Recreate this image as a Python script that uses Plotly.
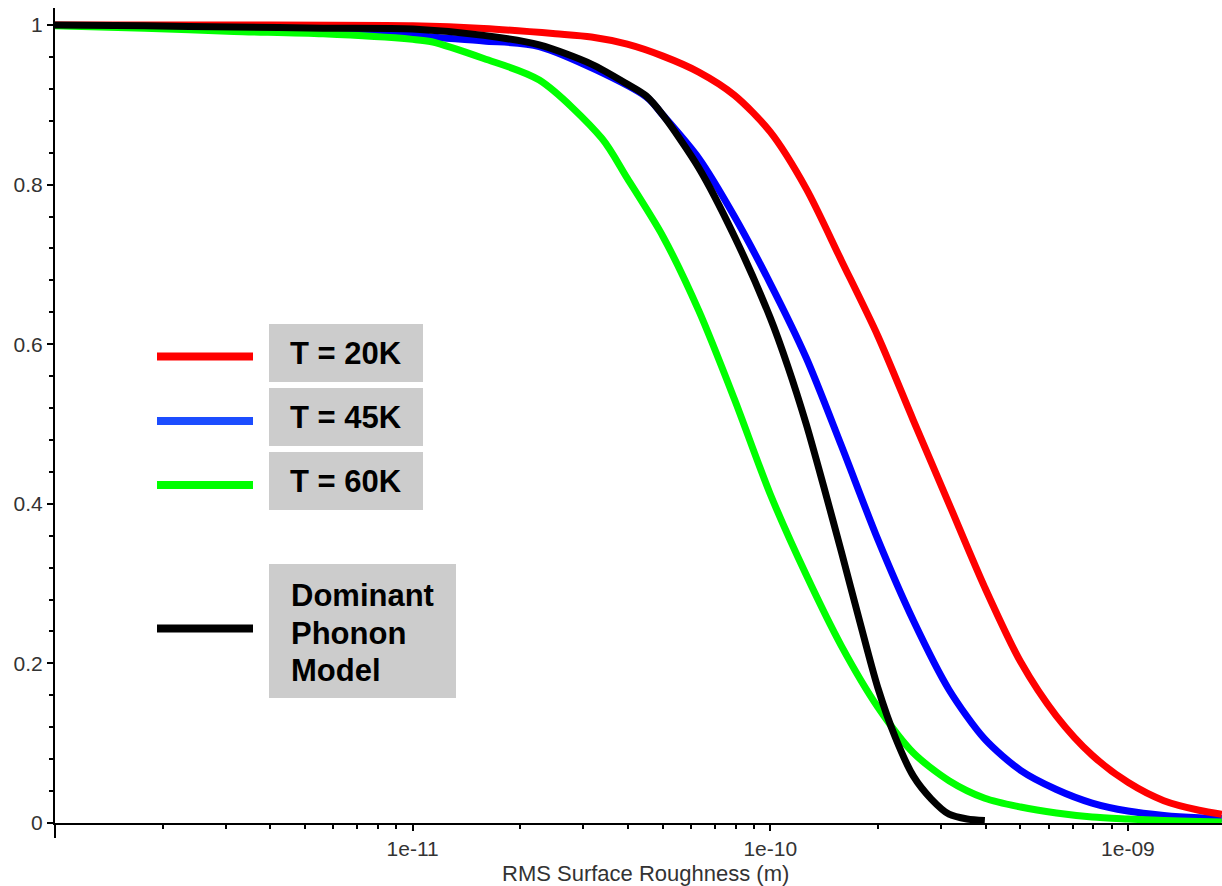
import plotly.graph_objects as go

# ---------------- data ----------------
red_x = [1e-12, 3.16e-12, 1e-11, 1.58e-11, 2.51e-11, 3.16e-11, 3.98e-11, 5.01e-11, 6.31e-11,
         7.94e-11, 1e-10, 1.26e-10, 1.58e-10, 2.0e-10, 2.51e-10, 3.16e-10, 3.98e-10, 5.01e-10,
         6.31e-10, 7.94e-10, 1e-9, 1.26e-9, 1.58e-9, 1.83e-9]
red_y = [1.0, 1.0, 0.999, 0.9956, 0.989, 0.985, 0.976, 0.961, 0.941,
         0.912, 0.866, 0.795, 0.705, 0.61, 0.505, 0.40, 0.295, 0.202,
         0.134, 0.085, 0.051, 0.028, 0.016, 0.011]

blue_x = [1e-12, 1.78e-12, 3.16e-12, 5.62e-12, 1e-11, 1.13e-11, 1.58e-11, 2.26e-11, 4.5e-11,
          5.01e-11, 6.31e-11, 7.94e-11, 1e-10, 1.26e-10, 1.58e-10, 2.0e-10, 2.51e-10, 3.16e-10,
          3.98e-10, 5.01e-10, 6.31e-10, 7.94e-10, 1e-9, 1.26e-9, 1.58e-9, 1.83e-9]
blue_y = [0.9995, 0.999, 0.997, 0.993, 0.9875, 0.985, 0.98, 0.973, 0.91,
          0.887, 0.833, 0.760, 0.676, 0.583, 0.473, 0.355, 0.254, 0.167,
          0.105, 0.066, 0.042, 0.025, 0.015, 0.0095, 0.0065, 0.0055]

green_x = [1e-12, 1.78e-12, 3.16e-12, 5.62e-12, 1e-11, 1.13e-11, 1.58e-11, 2.26e-11, 3.38e-11,
           3.98e-11, 5.01e-11, 6.31e-11, 7.94e-11, 1e-10, 1.26e-10, 1.58e-10, 2.0e-10, 2.51e-10,
           3.16e-10, 3.98e-10, 5.01e-10, 6.31e-10, 7.94e-10, 1e-9, 1.26e-9, 1.58e-9, 1.83e-9]
green_y = [0.999, 0.996, 0.992, 0.989, 0.982, 0.979, 0.958, 0.931, 0.858,
           0.808, 0.735, 0.642, 0.531, 0.412, 0.311, 0.222, 0.145, 0.088,
           0.053, 0.031, 0.020, 0.0125, 0.0075, 0.005, 0.003, 0.002, 0.0013]

black_x = [1e-12, 1.78e-12, 3.16e-12, 5.62e-12, 1e-11, 1.58e-11, 2.26e-11, 3.16e-11, 3.98e-11,
           4.5e-11, 5.01e-11, 6.31e-11, 7.94e-11, 1e-10, 1.12e-10, 1.26e-10, 1.41e-10, 1.58e-10,
           1.78e-10, 2.0e-10, 2.24e-10, 2.51e-10, 2.82e-10, 3.16e-10, 3.55e-10, 3.98e-10]
black_y = [1.0, 0.999, 0.9975, 0.996, 0.995, 0.987, 0.975, 0.951, 0.926,
           0.911, 0.887, 0.821, 0.735, 0.633, 0.572, 0.50, 0.422, 0.34,
           0.252, 0.169, 0.1065, 0.059, 0.030, 0.011, 0.005, 0.003]

x_tick_vals = [1e-11, 1e-10, 1e-9]
x_tick_text = ["1e-11", "1e-10", "1e-09"]
y_tick_vals = [0, 0.2, 0.4, 0.6, 0.8, 1.0]
y_tick_text = ["0", "0.2", "0.4", "0.6", "0.8", "1"]

legend_labels = ["T = 20K", "T = 45K", "T = 60K"]
legend_last = ["Dominant", "Phonon", "Model"]
x_title = "RMS Surface Roughness (m)"

# ---------------- layout geometry ----------------
W, H = 1222, 886
ML, MR, MT, MB = 55, 0, 8, 63
PW, PH = W - ML - MR, H - MT - MB


def px(xp):
    return (xp - ML) / PW


def py(yp):
    return (H - MB - yp) / PH


fig = go.Figure()
series = [
    (blue_x, blue_y, "#0000ff"),
    (red_x, red_y, "#ff0000"),
    (green_x, green_y, "#00ff00"),
    (black_x, black_y, "#000000"),
]
for xs, ys, col in series:
    fig.add_trace(go.Scatter(x=xs, y=ys, mode="lines",
                             line=dict(color=col, width=7, shape="spline", smoothing=0.8),
                             showlegend=False, hoverinfo="skip"))

minor_x = [m * 10.0 ** e for e in (-12, -11, -10, -9) for m in range(2, 10) if m * 10.0 ** e < 1.83e-9]

tick_font = dict(family="Liberation Sans, Arial, sans-serif", size=21, color="#333333")

fig.update_layout(
    width=W, height=H,
    margin=dict(l=ML, r=MR, t=MT, b=MB, pad=0),
    paper_bgcolor="white", plot_bgcolor="white",
    showlegend=False,
    xaxis=dict(type="log", range=[-12, -8.737], showgrid=False, zeroline=False,
               showline=True, linecolor="black", linewidth=2,
               tickmode="array", tickvals=x_tick_vals, ticktext=x_tick_text,
               ticks="outside", ticklen=6, tickwidth=1.5, tickcolor="black",
               tickfont=tick_font,
               minor=dict(tickmode="array", tickvals=minor_x, ticks="outside",
                          ticklen=4, tickwidth=1.5, tickcolor="black", showgrid=False)),
    yaxis=dict(range=[0, 1.0213], showgrid=False, zeroline=False,
               showline=True, linecolor="black", linewidth=2,
               tickmode="array", tickvals=y_tick_vals, ticktext=y_tick_text,
               ticks="outside", ticklen=6, tickwidth=1.5, tickcolor="black",
               tickfont=tick_font,
               minor=dict(tickmode="linear", tick0=0, dtick=0.04, ticks="outside",
                          ticklen=4, tickwidth=1.5, tickcolor="black", showgrid=False)),
)

shapes = []
# y-axis line continues slightly below the x axis
shapes.append(dict(type="line", xref="paper", yref="paper", x0=0, x1=0,
                   y0=py(838), y1=0, line=dict(color="black", width=2)))

# legend boxes
box_col = "#cccccc"
boxes = [(269, 423, 324, 382), (269, 423, 388, 446), (269, 423, 452, 510), (269, 456, 564, 698)]
for x0, x1, y0, y1 in boxes:
    shapes.append(dict(type="rect", xref="paper", yref="paper",
                       x0=px(x0), x1=px(x1), y0=py(y1), y1=py(y0),
                       fillcolor=box_col, line=dict(width=0), layer="above"))
# legend sample lines
sample_cols = ["#ff0000", "#1c4dff", "#00ff00", "#000000"]
sample_y = [356.5, 421, 485, 628.5]
for col, yy in zip(sample_cols, sample_y):
    shapes.append(dict(type="line", xref="paper", yref="paper",
                       x0=px(157), x1=px(253), y0=py(yy), y1=py(yy),
                       line=dict(color=col, width=8), layer="above"))
fig.update_layout(shapes=shapes)

leg_font = dict(family="Liberation Sans, Arial, sans-serif", size=31, color="black", weight="bold")
annotations = []
for lab, (x0, x1, y0, y1) in zip(legend_labels, boxes[:3]):
    annotations.append(dict(xref="paper", yref="paper", x=px((x0 + x1) / 2), y=py((y0 + y1) / 2),
                            text=lab, showarrow=False, xanchor="center", yanchor="middle",
                            font=leg_font))
for lab, yy in zip(legend_last, [595, 633, 670]):
    annotations.append(dict(xref="paper", yref="paper", x=px(289), y=py(yy),
                            text=lab, showarrow=False, xanchor="left", yanchor="middle",
                            font=leg_font))
annotations.append(dict(xref="paper", yref="paper", x=px(645), y=py(873), text=x_title,
                        showarrow=False, xanchor="center", yanchor="middle",
                        font=dict(family="Liberation Sans, Arial, sans-serif", size=22, color="#333333")))
fig.update_layout(annotations=annotations)

fig.write_html("out.html")
